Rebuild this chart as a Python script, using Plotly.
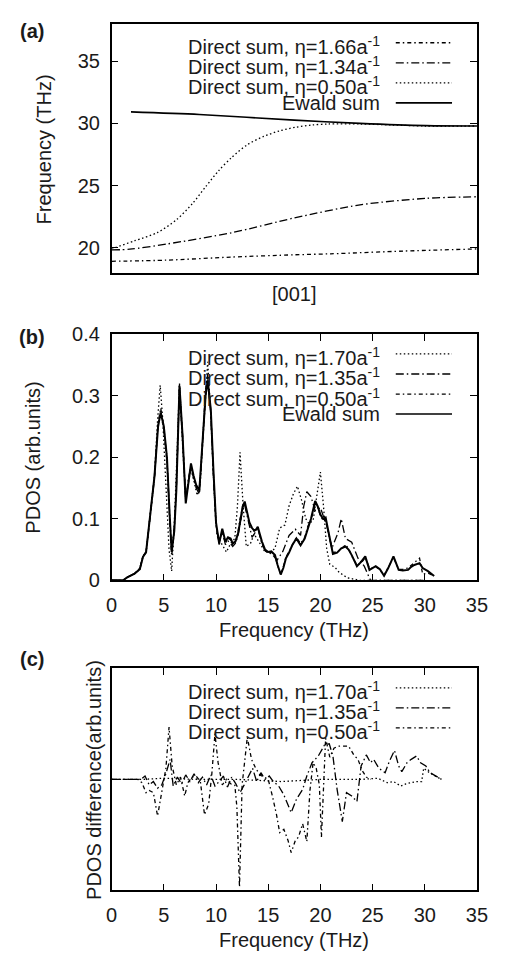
import plotly.graph_objects as go

# ---------------- data ----------------
# panel (a): dispersion along [001] (reduced coordinate 0..1)
a_q_166 = [0, 0.15, 0.33, 0.5, 0.6, 0.8, 1.0]
a_f_166 = [18.93, 19.02, 19.27, 19.45, 19.53, 19.75, 19.92]

a_q_134 = [0, 0.05, 0.15, 0.33, 0.5, 0.68, 0.86, 1.0]
a_f_134 = [19.84, 19.9, 20.31, 21.23, 22.41, 23.46, 23.98, 24.11]

a_q_050 = [0, 0.011, 0.063, 0.125, 0.178, 0.222, 0.257, 0.293, 0.328, 0.372, 0.416,
           0.46, 0.504, 0.549, 0.593, 0.68, 0.769, 0.857, 1.0]
a_f_050 = [20.0, 20.05, 20.58, 21.23, 22.28, 23.59, 24.9, 26.2, 27.25, 28.3, 28.95,
           29.4, 29.69, 29.87, 29.95, 29.95, 29.87, 29.79, 29.79]

a_q_ew = [0.053, 0.24, 0.5, 0.68, 0.86, 1.0]
a_f_ew = [30.92, 30.71, 30.26, 30.0, 29.82, 29.79]

a_yticks = [20, 25, 30, 35]

# panel (b): PDOS vs frequency (THz)
b_x_ew = [0, 1.1, 1.5, 1.8, 2.2, 2.7, 3.0, 3.3, 3.6, 4.1, 4.45, 4.7, 5.0, 5.3, 5.55, 5.75,
          6.0, 6.2, 6.5, 6.8, 7.1, 7.35, 7.6, 7.85, 8.1, 8.4, 8.7, 9.0, 9.2, 9.5, 9.75,
          10.0, 10.3, 10.6, 10.9, 11.15, 11.4, 11.6, 11.85, 12.1, 12.3, 12.55, 12.75,
          13.0, 13.2, 13.45, 13.65, 13.85, 14.0, 14.2, 14.4, 14.7, 15.0, 15.3, 15.65,
          15.9, 16.2, 16.45, 16.7, 17.0, 17.3, 17.7, 18.1, 18.5, 18.8, 19.1, 19.5, 19.75,
          20.0, 20.25, 20.5, 20.9, 21.2, 21.6, 22.0, 22.4, 22.7, 23.0, 23.5, 23.9, 24.3,
          24.7, 25.0, 25.3, 25.7, 26.1, 26.5, 27.0, 27.5, 27.9, 28.4, 28.7, 29.0, 29.5,
          29.8, 30.3, 30.9]
b_y_ew = [0, 0, 0.005, 0.008, 0.011, 0.018, 0.038, 0.046, 0.094, 0.168, 0.25, 0.273,
          0.25, 0.2, 0.11, 0.046, 0.08, 0.146, 0.316, 0.234, 0.125, 0.16, 0.19, 0.17,
          0.155, 0.146, 0.225, 0.3, 0.325, 0.278, 0.18, 0.094, 0.06, 0.084, 0.063, 0.07,
          0.068, 0.06, 0.063, 0.075, 0.094, 0.12, 0.128, 0.11, 0.094, 0.085, 0.081, 0.083,
          0.087, 0.075, 0.063, 0.05, 0.046, 0.047, 0.041, 0.025, 0.0095, 0.02, 0.036,
          0.045, 0.057, 0.068, 0.057, 0.068, 0.085, 0.1, 0.129, 0.12, 0.107, 0.1, 0.102,
          0.068, 0.043, 0.045, 0.052, 0.055, 0.05, 0.041, 0.023, 0.03, 0.039, 0.017, 0.02,
          0.023, 0.018, 0.0075, 0.02, 0.039, 0.017, 0.016, 0.017, 0.022, 0.025, 0.028,
          0.02, 0.015, 0.007]

b_x_050 = b_x_ew
b_y_050 = [0, 0, 0.005, 0.008, 0.011, 0.02, 0.04, 0.045, 0.09, 0.165, 0.255, 0.28, 0.25,
           0.19, 0.1, 0.04, 0.08, 0.15, 0.318, 0.235, 0.128, 0.16, 0.188, 0.168, 0.152,
           0.14, 0.23, 0.31, 0.335, 0.275, 0.175, 0.09, 0.058, 0.08, 0.06, 0.068, 0.066,
           0.058, 0.062, 0.078, 0.1, 0.118, 0.125, 0.108, 0.092, 0.083, 0.08, 0.082, 0.085,
           0.073, 0.06, 0.048, 0.045, 0.046, 0.04, 0.024, 0.01, 0.022, 0.038, 0.047, 0.058,
           0.07, 0.06, 0.07, 0.088, 0.098, 0.125, 0.118, 0.105, 0.098, 0.1, 0.07, 0.045,
           0.047, 0.05, 0.058, 0.052, 0.04, 0.025, 0.028, 0.037, 0.02, 0.02, 0.022, 0.017,
           0.008, 0.02, 0.037, 0.018, 0.018, 0.02, 0.024, 0.028, 0.036, 0.01, 0.012, 0.007]

b_x_135 = [0, 1.1, 1.5, 1.8, 2.2, 2.7, 3.0, 3.3, 3.6, 4.1, 4.45, 4.7, 5.0, 5.3, 5.55, 5.75,
           6.0, 6.2, 6.5, 6.8, 7.1, 7.35, 7.6, 7.85, 8.1, 8.4, 8.7, 9.0, 9.2, 9.5, 9.75,
           10.0, 10.3, 10.6, 10.9, 11.15, 11.4, 11.6, 11.85, 12.1, 12.3, 12.55, 12.75,
           13.0, 13.2, 13.45, 13.65, 13.85, 14.0, 14.2, 14.4, 14.7, 15.0,
           15.4, 15.85, 16.4, 17.0, 17.6, 18.1, 18.4, 18.7, 19.1, 19.5, 20.0, 20.6, 21.1,
           21.7, 22.0, 22.4, 23.0, 23.6, 24.2, 24.8, 25.5, 30.0]
b_y_135 = [0, 0, 0.005, 0.008, 0.011, 0.018, 0.038, 0.046, 0.094, 0.168, 0.255, 0.27,
           0.245, 0.2, 0.11, 0.05, 0.085, 0.15, 0.31, 0.23, 0.13, 0.165, 0.185, 0.165,
           0.15, 0.14, 0.22, 0.3, 0.33, 0.27, 0.17, 0.09, 0.062, 0.08, 0.058, 0.064, 0.06,
           0.055, 0.06, 0.072, 0.09, 0.115, 0.122, 0.105, 0.09, 0.07, 0.075, 0.08, 0.085,
           0.072, 0.06, 0.048, 0.045,
           0.042, 0.033, 0.047, 0.073, 0.083, 0.073, 0.12, 0.144, 0.136, 0.113, 0.118,
           0.089, 0.052, 0.078, 0.1, 0.068, 0.062, 0.036, 0.023, 0.0, 0.0, 0.0]

b_x_170 = [0, 1.1, 1.5, 2.2, 2.7, 3.0, 3.3, 3.6, 4.1, 4.4, 4.65, 4.9, 5.2, 5.5, 5.75, 6.0,
           6.25, 6.5, 6.8, 7.1, 7.35, 7.6, 7.9, 8.2, 8.5, 8.8, 9.2, 9.5, 9.8, 10.1, 10.5,
           11.0, 11.4, 11.8, 12.05, 12.3, 12.6, 12.9, 13.3, 13.65, 14.1, 14.7, 15.2, 15.65,
           16.1, 16.6, 17.0, 17.4, 17.8, 18.2, 18.6, 18.9, 19.3, 19.6, 20.0, 20.3, 20.6,
           20.9, 21.4, 21.8, 22.6, 23.8, 30.0]
b_y_170 = [0, 0, 0.005, 0.011, 0.018, 0.038, 0.046, 0.09, 0.17, 0.26, 0.317, 0.26, 0.15,
           0.05, 0.015, 0.09, 0.2, 0.32, 0.22, 0.13, 0.16, 0.18, 0.16, 0.138, 0.16, 0.24,
           0.355, 0.27, 0.15, 0.072, 0.06, 0.046, 0.06, 0.068, 0.12, 0.208, 0.12, 0.055,
           0.06, 0.075, 0.063, 0.046, 0.045, 0.052, 0.085, 0.09, 0.121, 0.14, 0.153, 0.13,
           0.1, 0.092, 0.097, 0.13, 0.176, 0.12, 0.052, 0.026, 0.021, 0.013, 0.004, 0, 0]

b_yticks = [0, 0.1, 0.2, 0.3, 0.4]
freq_ticks = [0, 5, 10, 15, 20, 25, 30, 35]

# panel (c): PDOS difference (arbitrary units)
c_x_170 = [0, 3.0, 5.0, 8.0, 12.0, 15.8, 16.3, 20.0, 24.0, 25.5, 26.4, 27.0, 27.7, 28.2,
           28.6, 29.2, 29.7, 29.9, 30.3, 30.8, 31.6]
c_y_170 = [0, 0.0, 0.01, 0.0, 0.0, -0.02, -0.02, 0.0, 0.0, 0.01, -0.03, -0.02, -0.06,
           -0.04, -0.03, -0.02, -0.02, 0.1, 0.07, 0.04, 0]

c_x_135 = [0, 2.8, 3.2, 3.6, 4.0, 4.4, 4.8, 5.2, 5.6, 5.9, 6.3, 6.7, 7.1, 7.5, 7.9, 8.3,
           8.7, 9.1, 9.5, 9.9, 10.3, 10.7, 11.1, 11.5, 11.9, 12.3, 12.7, 13.1, 13.5, 13.9,
           14.3, 14.7, 15.1, 15.5, 16.0, 16.5, 17.2, 17.7, 18.3, 18.7, 19.2, 19.8, 20.4,
           20.85, 21.2, 21.6, 22.1, 22.5, 23.0, 23.5, 23.9, 24.4, 24.8, 25.1, 25.6, 26.2,
           26.6, 27.1, 27.5, 27.8, 28.3, 28.7, 29.2, 29.6, 30.1, 30.5, 31.0, 31.6]
c_y_135 = [0, 0, 0.03, -0.05, -0.02, -0.08, -0.05, 0.05, 0.18, -0.06, 0.02, -0.04, 0.04,
           -0.02, 0.05, -0.03, 0.02, -0.05, 0.04, -0.06, -0.02, 0.03, -0.07, 0.02, -0.04,
           -0.12, -0.05, 0.03, 0.1, -0.02, 0.06, 0.0, 0.03, -0.02, -0.06, -0.14, -0.3,
           -0.18, -0.09, 0.03, 0.15, 0.21, 0.31, 0.32, 0.21, -0.09, -0.38, -0.12, -0.15,
           -0.2, 0.12, 0.22, 0.15, 0.18, 0.1, 0.06, 0.16, 0.26, 0.12, 0.07, 0.15, 0.18,
           0.21, 0.15, 0.12, 0.06, 0.03, 0]

c_x_050 = [0, 2.5, 2.9, 3.3, 3.6, 4.0, 4.4, 4.8, 5.2, 5.5, 5.8, 6.2, 6.6, 7.0, 7.3, 7.7,
           8.1, 8.5, 8.9, 9.3, 9.6, 9.9, 10.2, 10.6, 11.0, 11.4, 11.8, 12.0, 12.25, 12.5,
           12.8, 13.0, 13.4, 13.8, 14.2, 14.6, 15.0, 15.4, 15.8, 16.1, 16.5, 16.9, 17.2,
           17.6, 17.9, 18.3, 18.7, 19.0, 19.3, 19.6, 19.9, 20.1, 20.5, 20.9, 21.3, 21.7,
           22.2, 22.7, 23.2, 23.6, 24.0, 24.4, 24.8]
c_y_050 = [0, 0, -0.03, -0.12, -0.1, -0.12, -0.33, -0.1, 0.1, 0.47, 0.12, -0.05, 0.02,
           -0.15, -0.03, 0.02, 0.03, -0.02, -0.32, -0.22, 0.05, 0.41, 0.15, -0.05, 0,
           -0.04, -0.05, -0.25, -0.97, -0.05, 0.2, 0.38, 0.18, 0.1, 0.04, 0.02, 0, -0.15,
           -0.32, -0.48, -0.45, -0.55, -0.66, -0.55, -0.52, -0.4, -0.56, -0.1, 0.15, 0.1,
           -0.05, -0.52, 0.37, 0.2, 0.28, 0.3, 0.3, 0.3, 0.22, 0.18, 0.08, 0.02, 0]

legend_a = ["Direct sum, η=1.66a<sup>-1</sup>", "Direct sum, η=1.34a<sup>-1</sup>",
            "Direct sum, η=0.50a<sup>-1</sup>", "Ewald sum"]
legend_b = ["Direct sum, η=1.70a<sup>-1</sup>", "Direct sum, η=1.35a<sup>-1</sup>",
            "Direct sum, η=0.50a<sup>-1</sup>", "Ewald sum"]
legend_c = legend_b[:3]

# ---------------- styling ----------------
W, H = 507, 961
FONT = "Liberation Sans, Arial, Helvetica, sans-serif"
FS = 20
INK = "#1a1a1a"
DOT = "1.5px,2.5px"
DASHDOT = "8px,3px,1.5px,3px"
SHORTDD = "4px,3px,1.5px,3px"
THIN = 1.3
THICK = 2.0


def fx(p):
    return p / W


def fy(p):
    return 1 - p / H


LEFT, RIGHT = 109.3, 487.3
BOX = {"a": (13.0, 268.0), "b": (330.7, 582.7), "c": (672.7, 900.0)}

fig = go.Figure()


def add_line(x, y, ax, dash, width, shape="linear"):
    fig.add_trace(go.Scatter(
        x=x, y=y, mode="lines", showlegend=False, hoverinfo="skip",
        xaxis="x" + ax, yaxis="y" + ax,
        line=dict(color="black", width=width, dash=dash, shape=shape,
                  smoothing=0.8 if shape == "spline" else None)))


# panel (a)
add_line(a_q_166, a_f_166, "", SHORTDD, THIN, "spline")
add_line(a_q_134, a_f_134, "", DASHDOT, THIN, "spline")
add_line(a_q_050, a_f_050, "", DOT, THIN, "spline")
add_line(a_q_ew, a_f_ew, "", "solid", 1.6, "spline")
# panel (b)
add_line(b_x_170, b_y_170, "2", DOT, THIN)
add_line(b_x_135, b_y_135, "2", DASHDOT, THIN)
add_line(b_x_050, b_y_050, "2", SHORTDD, THIN)
add_line(b_x_ew, b_y_ew, "2", "solid", THICK)
# panel (c)
add_line(c_x_170, c_y_170, "3", DOT, THIN)
add_line(c_x_135, c_y_135, "3", DASHDOT, THIN)
add_line(c_x_050, c_y_050, "3", SHORTDD, THIN)

frame = dict(showline=True, linecolor="black", linewidth=1.5, mirror="ticks",
             showgrid=False, zeroline=False, ticks="inside", ticklen=7,
             tickcolor="black", tickwidth=1.2,
             tickfont=dict(family=FONT, size=FS, color=INK))

fig.update_layout(
    width=W, height=H, margin=dict(l=0, r=0, t=0, b=0),
    paper_bgcolor="white", plot_bgcolor="white", showlegend=False,
    font=dict(family=FONT, size=FS, color=INK),
    xaxis=dict(frame, domain=[fx(LEFT), fx(RIGHT)], range=[0, 1], ticks="",
               showticklabels=False, anchor="y"),
    yaxis=dict(frame, domain=[fy(BOX["a"][1]), fy(BOX["a"][0])], range=[18, 38],
               tickvals=a_yticks, anchor="x", ticklabelstandoff=6),
    xaxis2=dict(frame, domain=[fx(LEFT), fx(RIGHT)], range=[0, 35],
                tickvals=freq_ticks, anchor="y2", ticklabelstandoff=6),
    yaxis2=dict(frame, domain=[fy(BOX["b"][1]), fy(BOX["b"][0])], range=[0, 0.4],
                tickvals=b_yticks, ticktext=["0", "0.1", "0.2", "0.3", "0.4"],
                anchor="x2", ticklabelstandoff=6),
    xaxis3=dict(frame, domain=[fx(LEFT), fx(RIGHT)], range=[0, 35],
                tickvals=freq_ticks, anchor="y3", ticklabelstandoff=6),
    yaxis3=dict(frame, domain=[fy(BOX["c"][1]), fy(BOX["c"][0])], range=[-1, 1],
                ticks="", showticklabels=False, anchor="x3"),
)

ann = []


def text(t, x, y, **kw):
    d = dict(text=t, x=fx(x), y=fy(y), xref="paper", yref="paper", showarrow=False,
             font=dict(family=FONT, size=FS, color=INK), xanchor="center",
             yanchor="middle")
    d.update(kw)
    ann.append(d)


# panel labels
text("<b>(a)</b>", 27, 20)
text("<b>(b)</b>", 27, 334)
text("<b>(c)</b>", 27, 663)
# axis titles
text("Frequency (THz)", 39, 142, textangle=-90)
text("[001]", 298, 290)
text("PDOS (arb.units)", 27, 457, textangle=-90)
text("Frequency (THz)", 298, 633)
text("PDOS difference(arb.units)", 91, 787, textangle=-90)
text("Frequency (THz)", 298, 951)

# manual legends (text right-aligned, sample on the right, gnuplot style)
shapes = []
TX, S0, S1 = 389, 403.3, 461.5


def legend(labels, styles, y0, dy=20.5):
    for i, (lab, (dash, w)) in enumerate(zip(labels, styles)):
        y = y0 + i * dy
        text(lab, TX, y, xanchor="right", yshift=-3 if "sup" in lab else 0)
        shapes.append(dict(type="line", xref="paper", yref="paper",
                           x0=fx(S0), x1=fx(S1), y0=fy(y), y1=fy(y),
                           line=dict(color="black", width=w, dash=dash)))


legend(legend_a, [(SHORTDD, THIN), (DASHDOT, THIN), (DOT, THIN), ("solid", 1.6)], 32.5)
legend(legend_b, [(DOT, THIN), (DASHDOT, THIN), (SHORTDD, THIN), ("solid", 1.6)], 351)
legend(legend_c, [(DOT, THIN), (DASHDOT, THIN), (SHORTDD, THIN)], 692.7)

fig.update_layout(annotations=ann, shapes=shapes)
fig.write_html(
    "out.html",
    config={"displayModeBar": False},
    post_script="document.body.style.margin='0';document.body.style.padding='0';"
                "document.documentElement.style.overflow='hidden';")
